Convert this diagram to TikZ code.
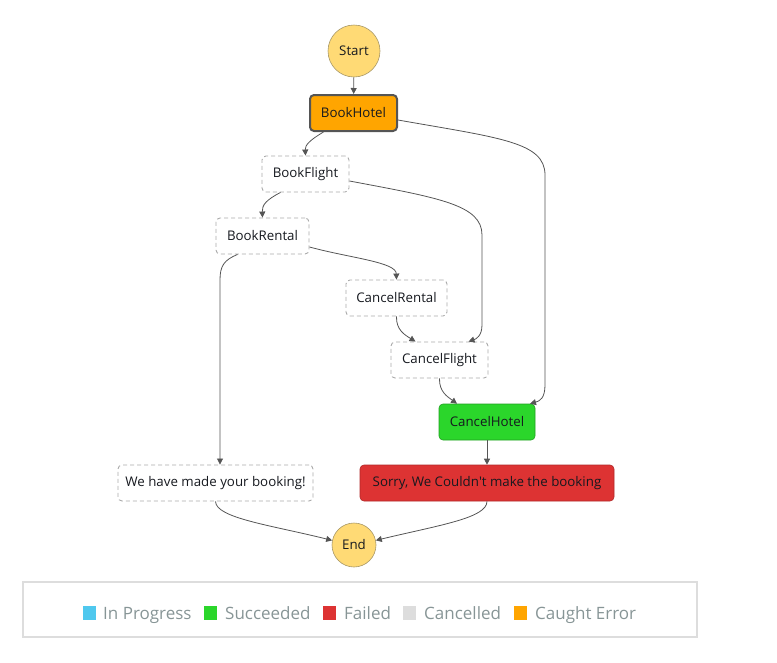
\documentclass[tikz,border=0pt]{standalone}
\usepackage{fontspec}
\setmainfont{Open Sans}
\usetikzlibrary{arrows.meta}
\definecolor{txt}{HTML}{16191F}
\definecolor{lineC}{HTML}{555555}
\definecolor{dashC}{HTML}{AAAAAA}
\definecolor{startC}{HTML}{FFDA75}
\definecolor{startB}{HTML}{A89868}
\definecolor{orangeC}{HTML}{FFA500}
\definecolor{greenC}{HTML}{2BD62B}
\definecolor{greenB}{HTML}{22A022}
\definecolor{redC}{HTML}{DD3333}
\definecolor{redB}{HTML}{B02828}
\definecolor{blueC}{HTML}{4FC8EE}
\definecolor{greyC}{HTML}{DDDDDD}
\definecolor{legT}{HTML}{879596}
\begin{document}
\begin{tikzpicture}[x=1pt,y=-1pt,
  base/.style={rounded corners=4pt, minimum height=36pt, inner sep=0pt, text=txt, font=\fontsize{13.3}{16}\selectfont},
  cancelled/.style={base, draw=dashC, dash pattern=on 4pt off 3pt, line width=0.9pt, fill=white},
  caught/.style={base, draw=lineC, line width=2pt, fill=orangeC},
  succ/.style={base, draw=greenB, line width=0.6pt, fill=greenC},
  fail/.style={base, draw=redB, line width=0.6pt, fill=redC},
  term/.style={circle, draw=startB, line width=0.6pt, fill=startC, inner sep=0pt, text=txt, font=\fontsize{13.3}{16}\selectfont},
  conn/.style={draw=lineC, line width=0.8pt, -{Triangle[length=6pt,width=6pt]}},
  legsq/.style={minimum width=13pt, minimum height=14pt, inner sep=0pt},
  legtx/.style={anchor=base west, inner sep=0pt, text=legT, font=\fontsize{17}{20}\selectfont}
]
\useasboundingbox (0,0) rectangle (777,662);

\node[term, minimum size=52pt] (start) at (354,51) {Start};
\node[caught, minimum width=87pt] (bh) at (353.5,113) {BookHotel};
\node[cancelled, minimum width=87pt] (bf) at (305.5,174) {BookFlight};
\node[cancelled, minimum width=93pt] (br) at (262.5,236) {BookRental};
\node[cancelled, minimum width=101pt] (cr) at (396.5,298) {CancelRental};
\node[cancelled, minimum width=97pt] (cf) at (439.5,360) {CancelFlight};
\node[succ, minimum width=96pt] (ch) at (487,422) {CancelHotel};
\node[cancelled, minimum width=195pt] (ok) at (215.5,483) {We have made your booking!};
\node[fail, minimum width=254pt] (no) at (487,483) {Sorry, We Couldn\textquotesingle t make the booking};
\node[term, minimum size=44pt] (end) at (354,545) {End};

\draw[conn] (start) -- (bh);
\draw[conn] ([xshift=-30pt]bh.south) .. controls (310,140) and (305,145) .. (bf.north);
\draw[conn] ([yshift=-7pt]bh.east) .. controls (500,138) and (545,142) .. (545,175) -- (545,385) .. controls (545,398) and (540,401) .. ([xshift=43pt]ch.north);
\draw[conn] ([xshift=-25pt]bf.south) .. controls (266,200) and (262,205) .. (br.north);
\draw[conn] ([yshift=-7pt]bf.east) .. controls (440,198) and (482,205) .. (482,235) -- (482,325) .. controls (482,336) and (476,339) .. ([xshift=29pt]cf.north);
\draw[conn] ([yshift=-11pt]br.east) .. controls (350,258) and (396,262) .. (cr.north);
\draw[conn] ([xshift=-25pt]br.south) .. controls (224,260) and (220,266) .. (220,280) -- ([xshift=4.5pt]ok.north);
\draw[conn] (cr.south) .. controls (396,330) and (405,335) .. ([xshift=-24pt]cf.north);
\draw[conn] (cf.south) .. controls (439,392) and (448,397) .. ([xshift=-30pt]ch.north);
\draw[conn] (ch.south) -- (no.north);
\draw[conn] (ok.south) .. controls (216,518) and (270,525) .. (end.168);
\draw[conn] (no.south) .. controls (487,518) and (440,525) .. (end.12);

\draw[draw=greyC, line width=1.8pt] (23,582) rectangle (697,637);
\node[legsq, fill=blueC] (l1) at (89.5,613) {};
\node[legtx] (t1) at (103,619.5) {In Progress};
\node[legsq, fill=greenC] (l2) at (210.5,613) {};
\node[legtx] (t2) at (225,619.5) {Succeeded};
\node[legsq, fill=redC] (l3) at (329.5,613) {};
\node[legtx] (t3) at (344,619.5) {Failed};
\node[legsq, fill=greyC] (l4) at (409.5,613) {};
\node[legtx] (t4) at (424,619.5) {Cancelled};
\node[legsq, fill=orangeC] (l5) at (520.5,613) {};
\node[legtx] (t5) at (535,619.5) {Caught Error};
\end{tikzpicture}
\end{document}
